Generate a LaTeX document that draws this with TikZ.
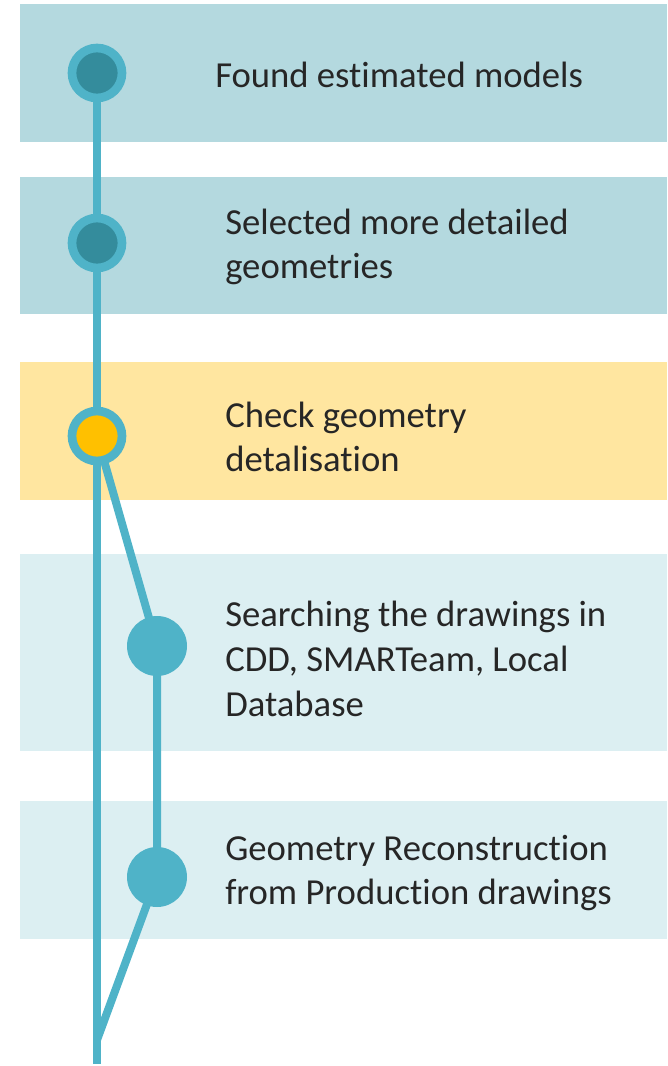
\documentclass[tikz,border=0pt]{standalone}
\usepackage{fontspec}
\setmainfont[Ligatures=NoCommon]{Carlito}
\pgfdeclarelayer{bands}
\pgfdeclarelayer{lines}
\pgfsetlayers{bands,lines,main}
\begin{document}
\begin{tikzpicture}[x=0.75pt,y=-0.75pt,
  lbl/.style={anchor=west,align=left,font=\fontsize{27.5}{33.5}\selectfont,text=black!85,inner sep=0pt},
  tl/.style={draw=lineblue,line width=6pt},
  ring/.style={circle,fill=#1,draw=lineblue,line width=6.5pt,minimum size=37.5pt,inner sep=0pt},
  dot/.style={circle,fill=lineblue,draw=none,minimum size=45pt,inner sep=0pt}]
\definecolor{lineblue}{HTML}{4FB3C8}
\definecolor{darkteal}{HTML}{348C9C}
\definecolor{bandA}{HTML}{B4D9DF}
\definecolor{bandY}{HTML}{FFE6A0}
\definecolor{bandL}{HTML}{DCEFF2}
\definecolor{gold}{HTML}{FFC000}
\useasboundingbox (0,0) rectangle (667,1066);
\begin{pgfonlayer}{bands}
\fill[bandA] (20,4) rectangle (667,142);
\fill[bandA] (20,177) rectangle (667,314);
\fill[bandY] (20,362) rectangle (667,500);
\fill[bandL] (20,554) rectangle (667,751);
\fill[bandL] (20,801) rectangle (667,939);
\end{pgfonlayer}
\coordinate (bot) at (97,1064);
\coordinate (join) at (97,1040);
\node[ring=darkteal] (c1) at (97,73) {};
\node[ring=darkteal] (c2) at (97,243) {};
\node[ring=gold] (c3) at (97,436) {};
\node[dot] (c4) at (157,646) {};
\node[dot] (c5) at (157,877) {};
\begin{pgfonlayer}{lines}
\draw[tl] (c1.center) -- (bot);
\draw[tl] (c3.center) -- (c4.center) -- (c5.center) -- (join);
\end{pgfonlayer}
\node[lbl] (t1) at (215,75) {Found estimated models};
\node[lbl] (t2) at (225,247) {Selected more detailed\\geometries};
\node[lbl] (t3) at (225,437) {Check geometry\\detalisation};
\node[lbl] (t4) at (225,659) {Searching the drawings in\\CDD, SMARTeam, Local\\Database};
\node[lbl] (t5) at (225,873) {Geometry Reconstruction\\from Production drawings};
\end{tikzpicture}
\end{document}
